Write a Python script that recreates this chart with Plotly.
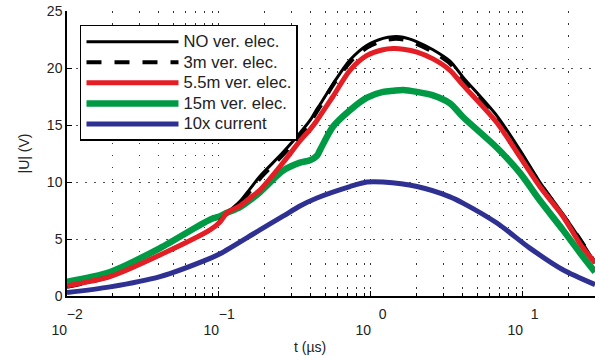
import numpy as np
import plotly.graph_objects as go

# time axis (µs)
t_main = [0.01, 0.0192, 0.0409, 0.0873, 0.1016, 0.113, 0.1375, 0.16, 0.186, 0.264, 0.341,
          0.397, 0.441, 0.462, 0.562, 0.727, 0.942, 1.2, 1.4, 1.63, 2.01, 2.56, 3.31, 4.03,
          6.74, 9.55, 12.9, 18.3, 23.7, 29.8]
u_no = [0.8, 1.7, 3.6, 5.8, 6.6, 7.3, 8.3, 9.4, 10.5, 12.6, 14.3,
        15.4, 16.4, 16.8, 18.6, 20.7, 22.0, 22.6, 22.75, 22.7, 22.3, 21.6, 20.6, 19.2,
        15.8, 12.8, 10.0, 7.2, 5.0, 2.9]
u_3m = [0.8, 1.7, 3.6, 5.8, 6.6, 7.3, 8.2, 9.2, 10.3, 12.4, 14.1,
        15.2, 16.2, 16.6, 18.5, 20.5, 21.8, 22.4, 22.55, 22.5, 22.1, 21.4, 20.4, 19.0,
        15.6, 12.6, 9.9, 7.1, 5.0, 2.9]
u_55m = [0.9, 1.7, 3.6, 5.8, 6.5, 7.3, 7.9, 8.6, 9.3, 11.7, 13.6,
         14.6, 15.4, 15.8, 17.5, 19.8, 21.1, 21.6, 21.7, 21.65, 21.4, 20.8, 19.8, 18.5,
         15.2, 12.2, 9.6, 7.0, 4.6, 2.9]
u_15m = [1.25, 2.1, 4.2, 6.7, 7.0, 7.3, 7.8, 8.4, 9.1, 11.0, 11.7,
         11.9, 12.3, 12.8, 14.85, 16.3, 17.4, 17.9, 18.0, 18.07, 17.9, 17.6, 16.9, 15.7,
         13.0, 10.8, 8.4, 5.8, 3.8, 2.1]

t_cur = [0.01, 0.0192, 0.0409, 0.0873, 0.1016, 0.186, 0.264, 0.341, 0.441, 0.727, 0.942,
         1.2, 2.01, 3.31, 4.03, 6.74, 11.1, 18.3, 29.8]
u_cur = [0.3, 0.8, 1.7, 3.3, 3.7, 5.8, 7.0, 7.9, 8.6, 9.6, 10.0,
         10.0, 9.6, 8.7, 8.15, 6.4, 4.2, 2.3, 1.0]

series_names = ["NO ver. elec.", "3m ver. elec.", "5.5m ver. elec.", "15m ver. elec.", "10x current"]

x_major = [0.01, 0.1, 1, 10]
x_exponents = ["\u22122", "\u22121", "\u20070", "\u20071"]
S = "<span style='font-size:14px'>"
x_major_text = [S + "\u2007\u2007" + e + "</span><br>" + S + "10\u2007\u2007</span>"
                for e in x_exponents]
x_minor = [m * d for d in [0.01, 0.1, 1, 10] for m in range(2, 10)]
y_ticks = [0, 5, 10, 15, 20, 25]

FONT = "Liberation Sans, Arial, Helvetica, sans-serif"
LEG = "<span style='font-size:16.6px'>{}</span>"

fig = go.Figure()
fig.add_trace(go.Scatter(x=t_main, y=u_15m, mode="lines", name=LEG.format(series_names[3]),
                         line=dict(color="#009a44", width=6.5, shape="spline", smoothing=0.8),
                         legendrank=4))
fig.add_trace(go.Scatter(x=t_main, y=u_no, mode="lines", name=LEG.format(series_names[0]),
                         line=dict(color="#000000", width=3, shape="spline", smoothing=0.8),
                         legendrank=1))
fig.add_trace(go.Scatter(x=t_main, y=u_3m, mode="lines", name=LEG.format(series_names[1]),
                         line=dict(color="#000000", width=4, dash="15px,13px",
                                   shape="spline", smoothing=0.8), legendrank=2))
fig.add_trace(go.Scatter(x=t_main, y=u_55m, mode="lines", name=LEG.format(series_names[2]),
                         line=dict(color="#e31e24", width=5, shape="spline", smoothing=0.8),
                         legendrank=3))
fig.add_trace(go.Scatter(x=t_cur, y=u_cur, mode="lines", name=LEG.format(series_names[4]),
                         line=dict(color="#2e3192", width=5, shape="spline", smoothing=0.8),
                         legendrank=5))

fig.update_layout(
    width=595, height=356,
    margin=dict(l=67, r=0, t=11, b=60, autoexpand=False),
    paper_bgcolor="white", plot_bgcolor="white",
    font=dict(family=FONT, size=14, color="#222"),
    showlegend=True,
    legend=dict(x=0.0246, y=0.951, xanchor="left", yanchor="top",
                bgcolor="white", bordercolor="black", borderwidth=1.5,
                font=dict(size=13.5, family=FONT, color="#222"),
                itemwidth=92, tracegroupgap=0, traceorder="normal"),
    annotations=[dict(text="t (\u00b5s)", x=(310 - 67) / 528, y=-0.18,
                      xref="paper", yref="paper", showarrow=False,
                      xanchor="center", yanchor="middle",
                      font=dict(size=14, family=FONT, color="#222"))],
)

fig.update_xaxes(
    type="log", range=[-2, 1.474], automargin=False,
    tickvals=x_major, ticktext=x_major_text,
    ticks="inside", ticklen=5, tickwidth=1, tickcolor="black",
    showline=True, linecolor="black", linewidth=1.5, mirror=False,
    showgrid=True, gridcolor="#333", gridwidth=1, griddash="1.5px,10.5px",
    ticklabelstandoff=7,
    tickfont=dict(size=12, family=FONT, color="#222"),
    minor=dict(tickvals=x_minor, ticks="inside", ticklen=3, tickcolor="black",
               showgrid=True, gridcolor="#333", gridwidth=1, griddash="1.5px,10.5px"),
    zeroline=False,
)
fig.update_yaxes(
    range=[0, 25], tickvals=y_ticks, automargin=False,
    ticks="inside", ticklen=5, tickwidth=1, tickcolor="black",
    showline=True, linecolor="black", linewidth=1.5, mirror=False,
    showgrid=True, gridcolor="#555", gridwidth=1, griddash="2px,7px",
    tickfont=dict(size=14, family=FONT, color="#222"),
    title=dict(text="|U| (V)", font=dict(size=14, family=FONT, color="#222"), standoff=14),
    zeroline=False,
)

fig.write_html("out.html", config={"displayModeBar": False},
               post_script="document.body.style.margin='0';document.body.style.padding='0';")
